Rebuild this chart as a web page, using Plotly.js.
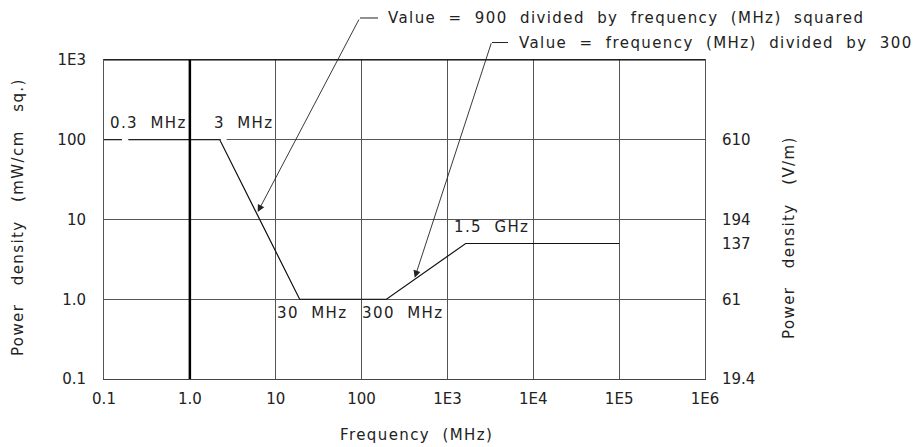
<!DOCTYPE html>
<html><head><meta charset="utf-8">
<script src="https://cdn.plot.ly/plotly-3.0.1.min.js"></script>
<style>html,body{margin:0;padding:0;background:#fff}#chart{width:915px;height:447px}
.annotation-text{letter-spacing:1.4px}</style>
</head><body><div id="chart"></div>
<script>
// Limit curve (corner points)
const freqMHz = [0.1, 2.23, 19, 195, 1630, 1e5];
const powerDensity = [100, 100, 1.0, 1.0, 5.0, 5.0];

const xTickVals = [0.1, 1, 10, 100, 1e3, 1e4, 1e5, 1e6];
const xTickText = ['0.1', '1.0', '10', '100', '1E3', '1E4', '1E5', '1E6'];
const yTickVals = [0.1, 1, 10, 100, 1000];
const yTickText = ['0.1', '1.0', '10', '100', '1E3'];
const y2TickVals = [0.1, 1, 5, 10, 100];
const y2TickText = ['19.4', '61', '137', '194', '610'];

const NB = '\u00a0\u00a0';
const cornerLabels = ['0.3' + NB + 'MHz', '3' + NB + 'MHz', '30' + NB + 'MHz', '300' + NB + 'MHz', '1.5' + NB + 'GHz'];
const cornerLabelX = [0.11, 1.79, 9.8, 96, 1122];
const cornerLabelY = [100, 100, 1.0, 1.0, 5.0];

const note1 = ['Value', '=', '900', 'divided', 'by', 'frequency', '(MHz)', 'squared'].join(NB);
const note2 = ['Value', '=', 'frequency', '(MHz)', 'divided', 'by', '300'].join(NB);
const note1Tip = [6.17, 12.4];
const note2Tip = [416, 1.86];

const xTitle = 'Frequency' + NB + '(MHz)';
const yTitle = ['Power', 'density', '(mW/cm', 'sq.)'].join(NB + '\u00a0');
const y2Title = ['Power', 'density', '(V/m)'].join(NB + '\u00a0');

const FONT = 'DejaVu Sans, sans-serif';
const TXT = '#222';
const GRID = '#555';
const f15 = {family: FONT, size: 15, color: TXT};

const traces = [
  {x: freqMHz, y: powerDensity, type: 'scatter', mode: 'lines',
   line: {color: '#111', width: 1.2}, hoverinfo: 'skip', showlegend: false},
  {x: freqMHz, y: powerDensity, yaxis: 'y2', type: 'scatter', mode: 'lines',
   line: {color: 'rgba(0,0,0,0)', width: 0}, hoverinfo: 'skip', showlegend: false}
];

const annotations = [];
for (let i = 0; i < cornerLabels.length; i++) {
  const below = cornerLabelY[i] === 1.0;
  annotations.push({x: Math.log10(cornerLabelX[i]), y: Math.log10(cornerLabelY[i]),
    xref: 'x', yref: 'y', text: cornerLabels[i], showarrow: false,
    xanchor: 'left', yanchor: below ? 'top' : 'bottom', yshift: below ? -3 : 6, font: f15});
}
annotations.push({x: Math.log10(note1Tip[0]), y: Math.log10(note1Tip[1]), xref: 'x', yref: 'y',
  ax: 102, ay: -194, showarrow: true, arrowhead: 2, arrowsize: 1.6, arrowwidth: 0.9,
  arrowcolor: '#222', text: ''});
annotations.push({x: Math.log10(note2Tip[0]), y: Math.log10(note2Tip[1]), xref: 'x', yref: 'y',
  ax: 77, ay: -236, showarrow: true, arrowhead: 2, arrowsize: 1.6, arrowwidth: 0.9,
  arrowcolor: '#222', text: ''});
annotations.push({x: 0.4695, y: 1.1317, xref: 'paper', yref: 'paper', text: note1,
  showarrow: false, xanchor: 'left', yanchor: 'middle', font: f15});
annotations.push({x: 0.687, y: 1.0548, xref: 'paper', yref: 'paper', text: note2,
  showarrow: false, xanchor: 'left', yanchor: 'middle', font: f15});
// axis titles
annotations.push({x: 0.5205, y: -0.1754, xref: 'paper', yref: 'paper', text: xTitle,
  showarrow: false, xanchor: 'center', yanchor: 'middle', font: f15});
annotations.push({x: -0.1427, y: 0.5083, xref: 'paper', yref: 'paper', text: yTitle, textangle: -90,
  showarrow: false, xanchor: 'center', yanchor: 'middle', font: f15});
annotations.push({x: 1.1398, y: 0.442, xref: 'paper', yref: 'paper', text: y2Title, textangle: -90,
  showarrow: false, xanchor: 'center', yanchor: 'middle', font: f15});

const shapes = [
  {type: 'line', xref: 'x', yref: 'paper', x0: 1, x1: 1, y0: 0, y1: 1, line: {color: '#000', width: 2.5}},
  {type: 'line', xref: 'paper', yref: 'paper', x0: 0, x1: 1, y0: 1, y1: 1, line: {color: '#000', width: 1.2}},
  {type: 'line', xref: 'paper', yref: 'paper', x0: 0.426, x1: 0.456, y0: 1.1317, y1: 1.1317, line: {color: '#222', width: 1}},
  {type: 'line', xref: 'paper', yref: 'paper', x0: 0.6456, x1: 0.6722, y0: 1.0548, y1: 1.0548, line: {color: '#222', width: 1}},
  // gaps in the 100 line
  {type: 'line', xref: 'x', yref: 'y', x0: 0.162, x1: 0.192, y0: 100, y1: 100, line: {color: '#fff', width: 3}},
  {type: 'line', xref: 'x', yref: 'y', x0: 2.3, x1: 2.68, y0: 100, y1: 100, line: {color: '#fff', width: 3}}
];

const layout = {
  width: 915, height: 447,
  margin: {l: 104, r: 210, t: 60, b: 68},
  paper_bgcolor: '#fff', plot_bgcolor: '#fff',
  font: f15,
  showlegend: false,
  xaxis: {type: 'log', range: [-1, 6], tickvals: xTickVals, ticktext: xTickText,
    showgrid: true, gridcolor: GRID, gridwidth: 1, zeroline: false,
    showline: true, linecolor: '#444', linewidth: 1, mirror: true,
    ticks: '', ticklabelstandoff: 6, tickfont: f15},
  yaxis: {type: 'log', range: [-1, 3], tickvals: yTickVals, ticktext: yTickText,
    showgrid: true, gridcolor: GRID, gridwidth: 1, zeroline: false,
    showline: true, linecolor: '#555', linewidth: 1, mirror: true,
    ticks: '', ticklabelstandoff: 14, tickfont: f15},
  yaxis2: {type: 'log', range: [-1, 3], overlaying: 'y', side: 'right',
    tickvals: y2TickVals, ticktext: y2TickText, showgrid: false, zeroline: false,
    showline: false, ticks: '', ticklabelstandoff: 16, tickfont: f15},
  annotations: annotations,
  shapes: shapes
};

Plotly.newPlot('chart', traces, layout, {displayModeBar: false, staticPlot: true});
</script>
</body></html>
